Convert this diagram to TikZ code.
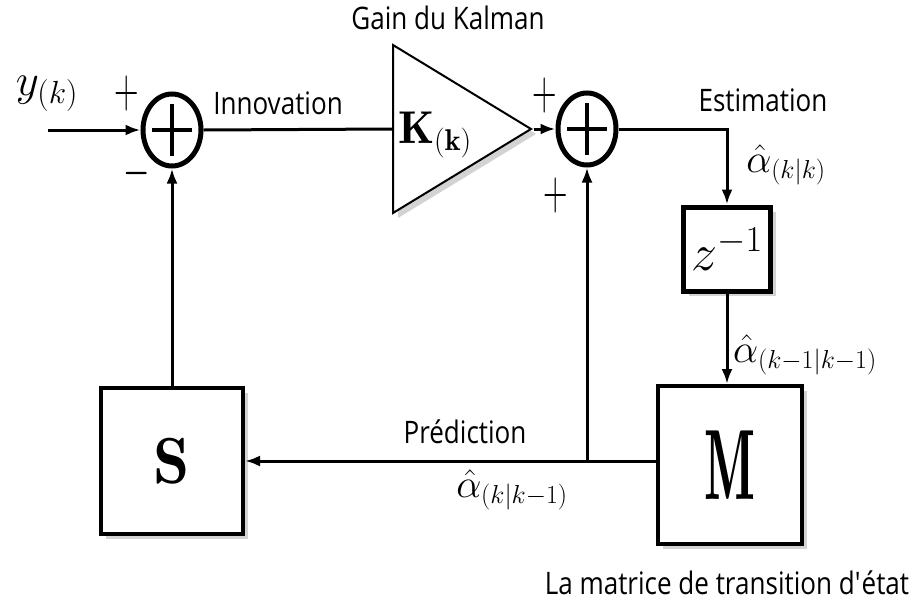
\documentclass[tikz,border=0pt]{standalone}
\usepackage{fix-cm}
\usepackage{amsmath}
\usepackage{fontspec}
\setsansfont{Open Sans}[FakeStretch=0.84]
\usetikzlibrary{positioning, shapes.geometric, arrows.meta, calc, shadows}

\DeclareMathSizes{40}{40}{26}{20}
\DeclareMathSizes{45}{45}{32}{24}
\DeclareMathSizes{46}{46}{30}{22}
\newcommand{\estim}[1]{$\hat{\alpha}_{#1}$}
\newcommand{\sgnmark}[1]{\scalebox{1}[1.65]{$#1$}}

\begin{document}
\begin{tikzpicture}[x=1pt, y=-1pt,
    line/.style={line width=3pt},
    arr/.style={line, -{Latex[length=15pt, width=11pt]}},
    sumnode/.style={ellipse, draw, line width=5pt, minimum width=58pt, minimum height=72pt, inner sep=0pt, fill=white,
      path picture={\draw[line width=4.5pt] ([xshift=-20pt]path picture bounding box.center) -- ([xshift=20pt]path picture bounding box.center)
        ([yshift=-26pt]path picture bounding box.center) -- ([yshift=26pt]path picture bounding box.center);}},
    block/.style={draw, line width=4pt, fill=white, inner sep=0pt,
      drop shadow={opacity=0.35, shadow xshift=5pt, shadow yshift=-5pt}},
    lbl/.style={font=\sffamily\fontsize{31}{31}\selectfont, inner sep=1pt},
    mlbl/.style={font=\fontsize{40}{40}\selectfont, inner sep=1pt},
    sign/.style={font=\fontsize{34}{34}\selectfont, inner sep=0pt}]
  \useasboundingbox (0,0) rectangle (922,611);

  % summing points and gain
  \node[sumnode] (sum1) at (172,130) {};
  \node[sumnode] (sum2) at (587,129) {};
  \node[block, isosceles triangle, isosceles triangle stretches, minimum width=168pt, minimum height=138pt,
    line width=2pt, anchor=west] (gain) at (392,129) {};
  \node[font=\fontsize{46}{46}\selectfont, inner sep=1pt] (gainK) at (435,135) {$\mathbf{K}_{\mathbf{(k)}}$};

  % blocks
  \node[block, minimum width=87pt, minimum height=84pt, line width=5pt] (delay) at (727,249) {\fontsize{52}{52}\selectfont$z^{-1}$};
  \node[block, minimum width=144pt, minimum height=158pt] (trans) at (730,465) {\fontsize{80}{80}\selectfont\scalebox{0.67}[1.25]{$\mathbf{M}$}};
  \node[block, minimum width=142pt, minimum height=146pt] (obs) at (172,461) {\fontsize{65}{65}\selectfont$\mathbf{S}$};

  % labels
  \node[mlbl, font=\fontsize{45}{45}\selectfont] (meas) at (47,94) {$y_{(k)}$};
  \node[lbl] (innov) at (278,103) {Innovation};
  \node[lbl] (gaintxt) at (448,18) {Gain du Kalman};
  \node[lbl] (esttxt) at (763,100) {Estimation};
  \node[mlbl] (estkk) at (786,165) {\estim{(k|k)}};
  \node[mlbl] (estprev) at (805,355) {\estim{(k{-}1|k{-}1)}};
  \node[lbl] (predtxt) at (465,432) {Prédiction};
  \node[mlbl] (estpred) at (512,490) {\estim{(k|k{-}1)}};
  \node[lbl] (transtxt) at (727,583) {La matrice de transition d\textquotesingle état};

  \foreach \pos/\s [count=\n] in {{(127,93)}/+, {(137,173)}/-, {(545,95)}/+, {(556,195)}/+}
    \node[sign] (sign\n) at \pos {\sgnmark{\s}};

  % connectors
  \coordinate (src) at (48,130);
  \draw[arr] (src) -- (sum1.west);
  \draw[line] (sum1.east) -- (gain.west);
  \draw[arr] (gain.apex) -- (sum2.west);
  \draw[arr] (sum2.east) -| (delay.north);
  \draw[arr] (delay.south) -- (delay.south |- trans.north);
  \draw[arr] (trans.west |- obs.east) -- (obs.east);
  \draw[arr] (sum2 |- obs.east) -- (sum2.south);
  \draw[arr] (obs.north) -- (sum1.south);
\end{tikzpicture}
\end{document}
